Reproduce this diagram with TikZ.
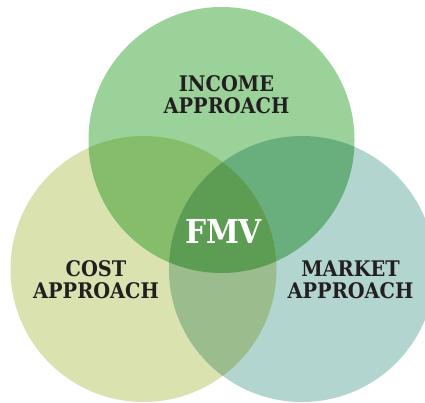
\documentclass[tikz,border=0pt]{standalone}
\usepackage{fontspec}
\newfontfamily\slab{DejaVu Serif Condensed}
\definecolor{cT}{HTML}{9AD29A}
\definecolor{cL}{HTML}{DAE2B0}
\definecolor{cR}{HTML}{B2D5CF}
\definecolor{cTL}{HTML}{85BD6B}
\definecolor{cTR}{HTML}{69AF7E}
\definecolor{cLR}{HTML}{9BBC8C}
\definecolor{cC}{HTML}{5D9D53}
\definecolor{ink}{HTML}{231F20}
\begin{document}
\begin{tikzpicture}[x=1pt,y=-1pt,
  lbl/.style={font=\slab\bfseries\fontsize{21.5}{22}\selectfont, text=ink, align=center, anchor=base, inner sep=0pt},
  ring/.style={circle, minimum size=266pt, inner sep=0pt}]
\useasboundingbox (0,0) rectangle (425,402);
\coordinate (T) at (221.5,140);
\coordinate (L) at (143.5,269);
\coordinate (R) at (302,269);
\node[ring, fill=cL] (cost) at (L) {};
\node[ring, fill=cR] (market) at (R) {};
\node[ring, fill=cT] (income) at (T) {};
\begin{scope}
  \clip (T) circle (133);
  \fill[cTL] (L) circle (133);
  \fill[cTR] (R) circle (133);
\end{scope}
\begin{scope}
  \clip (L) circle (133);
  \clip (R) circle (133);
  \fill[cLR] (R) circle (133);
  \clip (T) circle (133);
  \fill[cC] (T) circle (133);
\end{scope}
\node[lbl] (incomeT) at (226.5,113) {INCOME\\APPROACH};
\node[lbl] (costT) at (96,298) {COST\\APPROACH};
\node[lbl] (marketT) at (350.5,298) {MARKET\\APPROACH};
\node[font=\slab\bfseries\fontsize{33}{36}\selectfont, text=white, anchor=base, inner sep=0pt] (fmv) at (223.5,243) {FMV};
\end{tikzpicture}
\end{document}
